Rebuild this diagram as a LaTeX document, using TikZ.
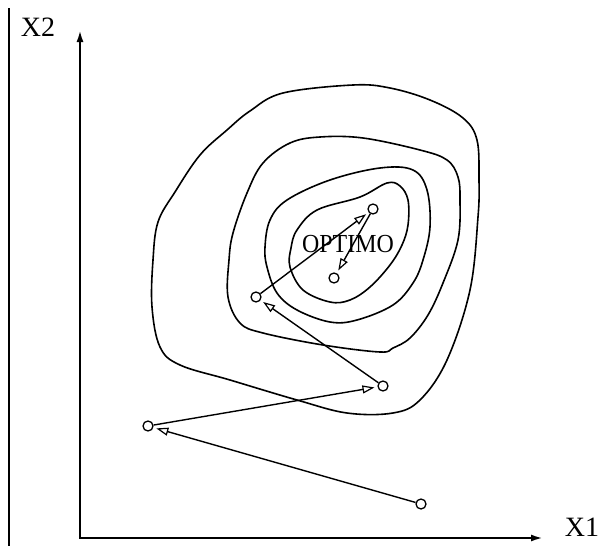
\documentclass[tikz,border=0pt]{standalone}
\usepackage{fontspec}
\setmainfont{Liberation Serif}
\usetikzlibrary{arrows.meta}
\begin{document}
\begin{tikzpicture}[x=1pt,y=-1pt,
  contour/.style={line width=1.6pt},
  pt/.style={circle, draw, line width=1.3pt, minimum size=10pt, inner sep=0pt},
  stepline/.style={line width=1.4pt, -{Triangle[open, length=12pt, width=8pt, line width=1.2pt]}, shorten >=3pt},
  axis/.style={line width=2.2pt, {Latex[length=12pt,width=7pt]}-{Latex[length=12pt,width=7pt]}},
  lbl/.style={font=\fontsize{28}{31}\selectfont, inner sep=0pt}
]
\useasboundingbox (0,0) rectangle (598,546);
% left border line
\coordinate (Btop) at (9,8);
\coordinate (Bbot) at (9,546);
\draw[line width=1.2pt] (Btop) -- (Bbot);
% axes
\coordinate (O) at (80,538);
\coordinate (Ytop) at (80,30);
\coordinate (Xend) at (543,538);
\draw[axis] (Ytop) -- (O) -- (Xend);
\node[lbl] (x2) at (38,27.5) {X2};
\node[lbl] (x1) at (582,527.5) {X1};
% contours
\draw[contour] plot[smooth cycle, tension=0.6] coordinates {
 (353,85) (390,88) (430,100) (463,118) (477,140) (479,180) (478,217) (470,290)
 (447,360) (420,400) (393,413) (347,413) (297,400) (230,380) (180,365) (160,347)
 (152,307) (153,260) (158,222) (175,192) (200,155) (227,130) (250,111) (283,93)};
\draw[contour] plot[smooth cycle, tension=0.6] coordinates {
 (320,137) (363,138) (420,150) (447,160) (458,177) (460,200) (458,240) (443,283)
 (428,315) (410,338) (393,348) (380,352) (323,345) (263,333) (240,323) (228,297)
 (229,260) (233,233) (247,193) (263,163) (290,143)};
\draw[contour] plot[smooth cycle, tension=0.6] coordinates {
 (380,168) (413,170) (427,190) (430,227) (423,260) (413,283) (393,305) (357,320)
 (330,322) (297,310) (277,293) (267,267) (265,247) (270,220) (287,200) (330,180)};
\draw[contour] plot[smooth cycle, tension=0.6] coordinates {
 (387,183) (400,186) (408,200) (408,225) (402,245) (390,265) (370,287) (350,300)
 (330,302) (303,290) (290,267) (291,248) (297,230) (317,210) (360,197)};
% label
\node[font=\fontsize{26}{29}\selectfont, inner sep=0pt] (opt) at (348,244) {\scalebox{0.92}[1]{OPTIMO}};
% search points
\node[pt] (p1) at (421,504) {};
\node[pt] (p2) at (148,426) {};
\node[pt] (p3) at (383,386) {};
\node[pt] (p4) at (256,297) {};
\node[pt] (p5) at (373,209) {};
\node[pt] (p6) at (334,278) {};
\draw[stepline] (p1) -- (p2);
\draw[stepline] (p2) -- (p3);
\draw[stepline] (p3) -- (p4);
\draw[stepline] (p4) -- (p5);
\draw[stepline] (p5) -- (p6);
\end{tikzpicture}
\end{document}
